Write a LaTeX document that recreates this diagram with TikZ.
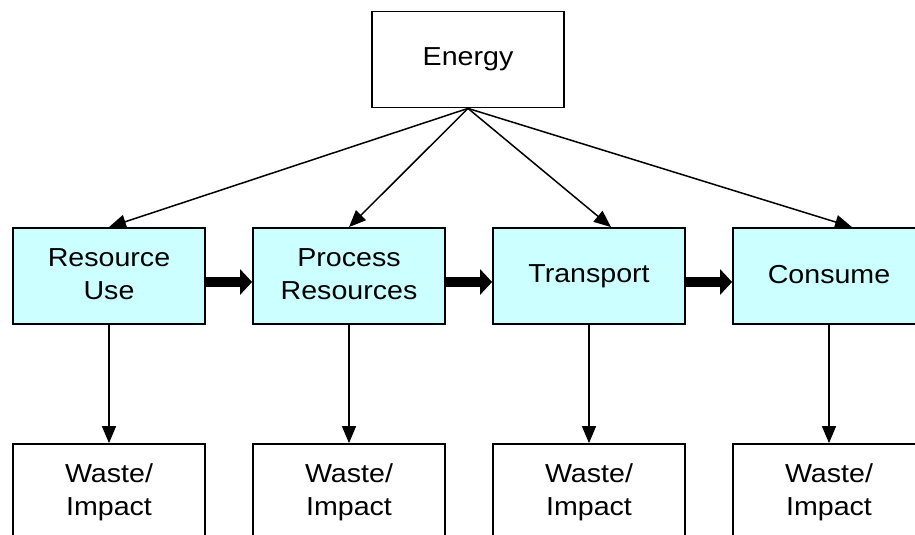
\documentclass[tikz,border=0pt]{standalone}
\usepackage{fontspec}
\setmainfont[FakeStretch=1.1]{Liberation Sans}
\usetikzlibrary{arrows.meta}
\definecolor{stagefill}{HTML}{CCFFFF}

\begin{document}
\begin{tikzpicture}[x=1pt,y=-1pt,
  box/.style={draw=black, line width=1.8pt, minimum width=192pt,
    minimum height=96pt, inner sep=0pt, align=center,
    font=\fontsize{26}{33}\selectfont},
  stage/.style={box, fill=stagefill},
  feed/.style={line width=1.5pt, -{Triangle[length=17pt,width=14pt]}},
  flow/.style={line width=10pt, -{Triangle[length=12pt,width=25pt]}}]

  \useasboundingbox (0,0) rectangle (915,535);
  \clip (0,0) rectangle (915,535);

  % source
  \node[box] (en) at (468,59.5) {Energy};

  % life-cycle stages
  \node[stage] (ru) at (109,276) {\raisebox{3pt}{\begin{tabular}{@{}c@{}}Resource\\Use\end{tabular}}};
  \node[stage] (pr) at (349,276) {\raisebox{3pt}{\begin{tabular}{@{}c@{}}Process\\Resources\end{tabular}}};
  \node[stage] (tr) at (589,276) {\raisebox{4pt}{Transport}};
  \node[stage] (co) at (829,276) {\raisebox{4pt}{Consume}};

  % outputs of each stage
  \node[box] (w1) at (109,492) {Waste/\\Impact};
  \node[box] (w2) at (349,492) {Waste/\\Impact};
  \node[box] (w3) at (589,492) {Waste/\\Impact};
  \node[box] (w4) at (829,492) {Waste/\\Impact};

  % energy input to every stage
  \draw[feed] (en.south) -- (ru.north);
  \draw[feed] (en.south) -- (pr.north);
  \draw[feed] (en.south) -- ([xshift=22pt]tr.north);
  \draw[feed] (en.south) -- ([xshift=23pt]co.north);

  % material flow between stages
  \draw[flow] ([yshift=-6pt]ru.east) -- ([yshift=-6pt]pr.west);
  \draw[flow] ([yshift=-6pt]pr.east) -- ([yshift=-6pt]tr.west);
  \draw[flow] ([yshift=-6pt]tr.east) -- ([yshift=-6pt]co.west);

  % waste from every stage
  \draw[feed] (ru.south) -- (w1.north);
  \draw[feed] (pr.south) -- (w2.north);
  \draw[feed] (tr.south) -- (w3.north);
  \draw[feed] (co.south) -- (w4.north);
\end{tikzpicture}
\end{document}
